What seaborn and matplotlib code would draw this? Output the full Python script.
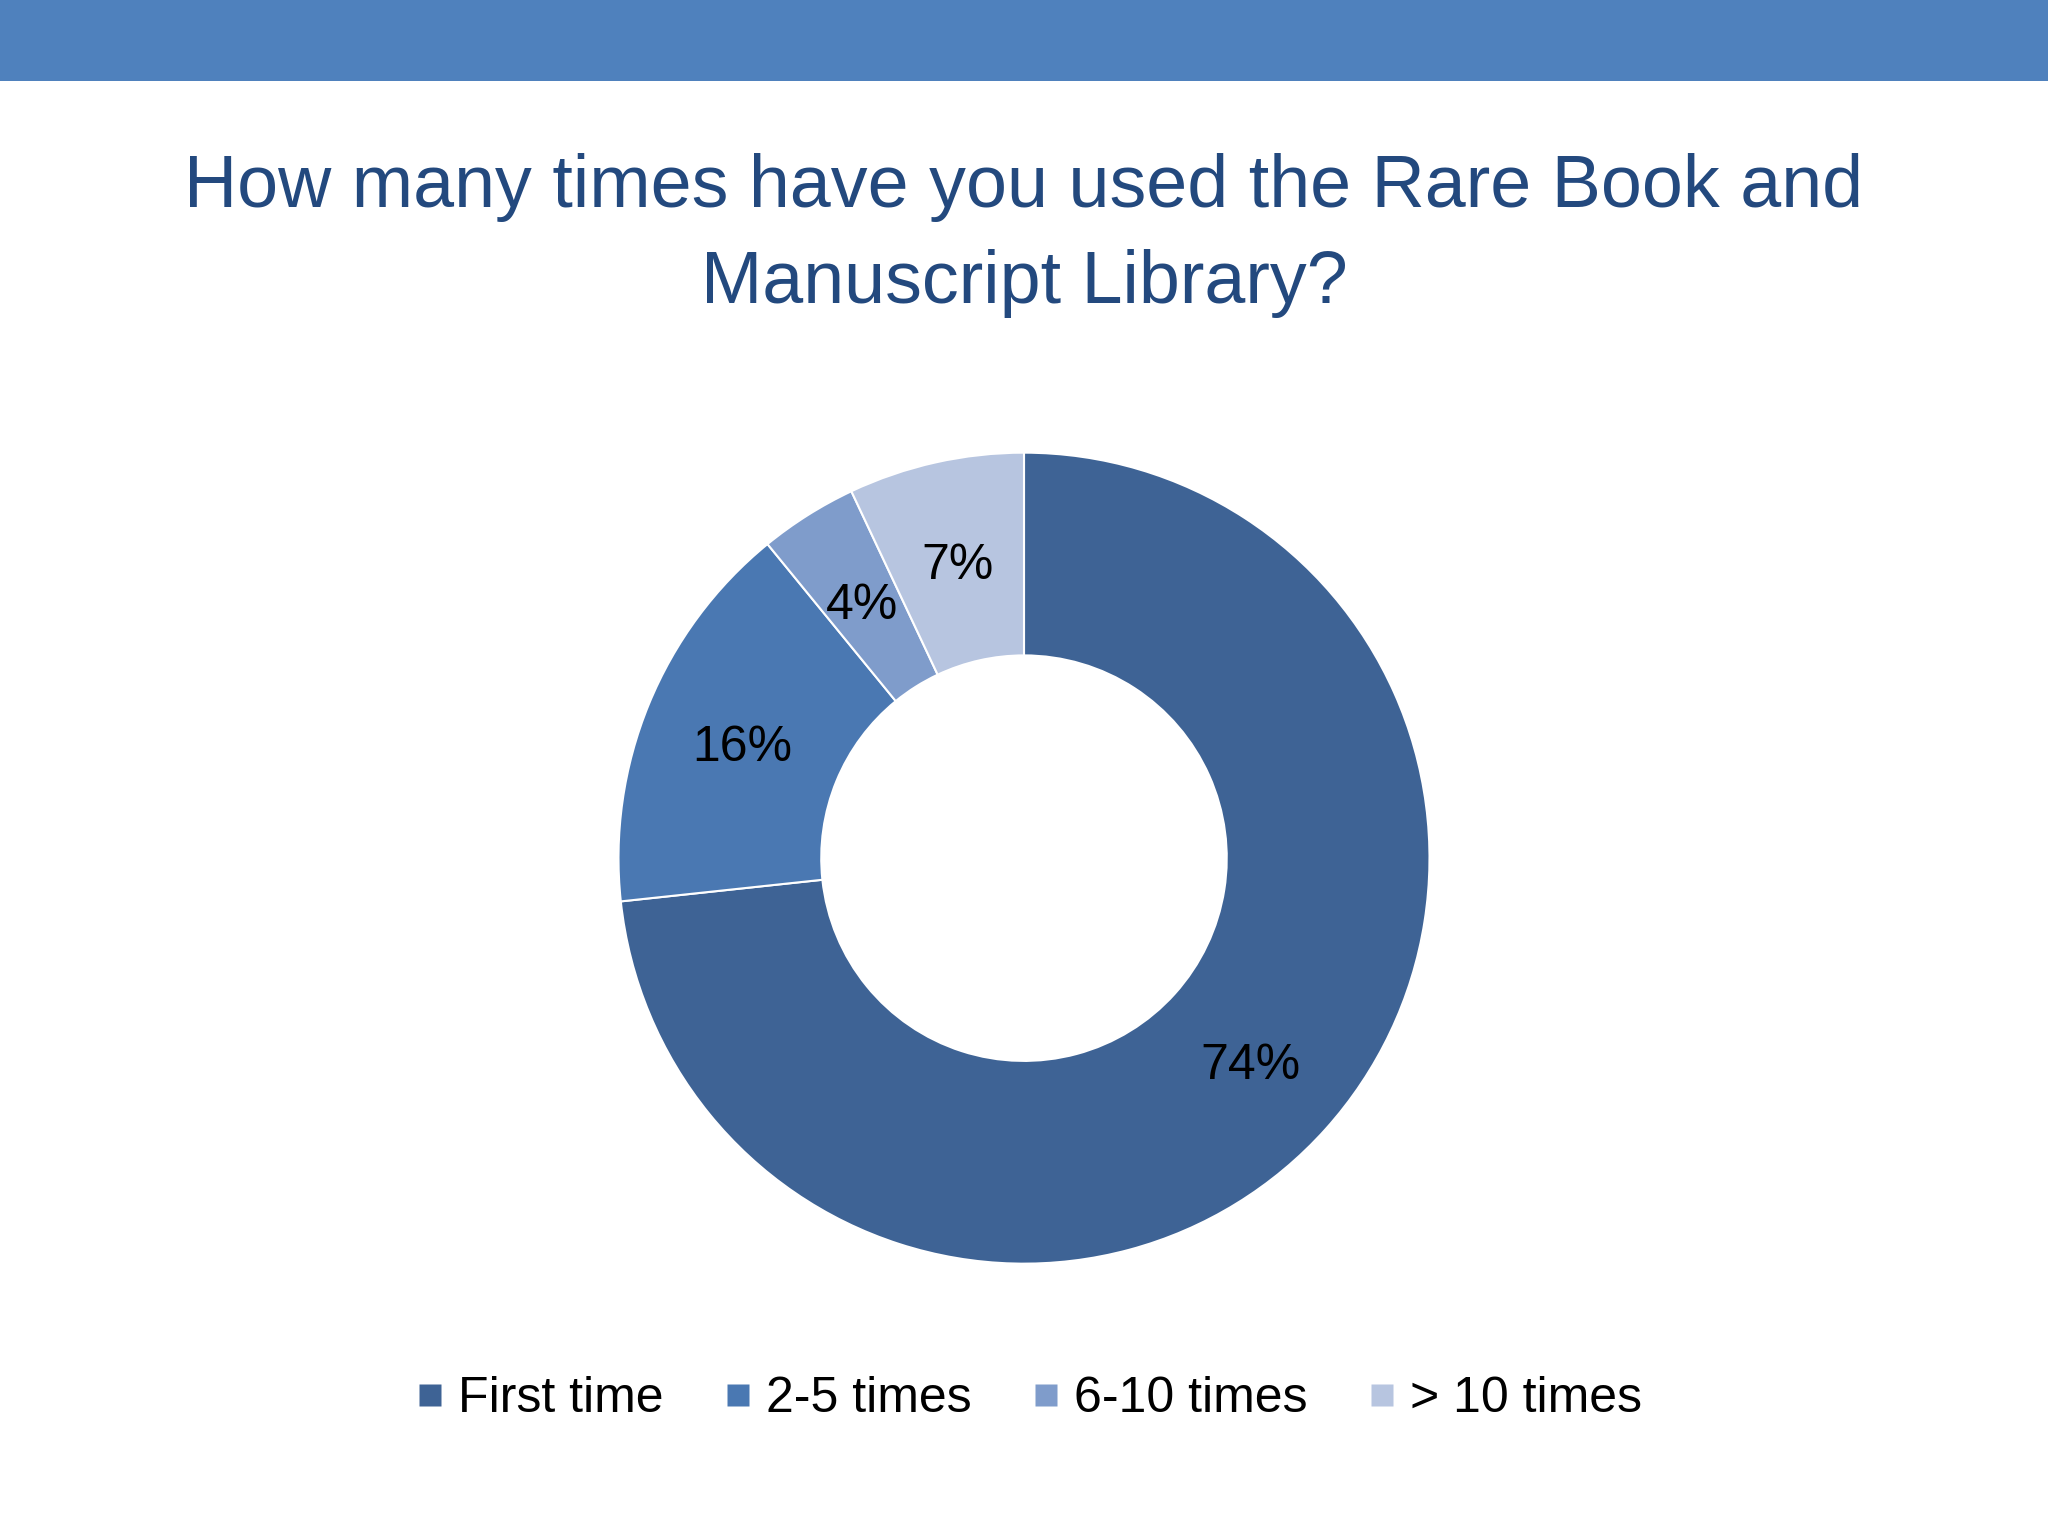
import matplotlib
matplotlib.use("Agg")
import matplotlib.pyplot as plt
from matplotlib.lines import Line2D
from matplotlib.patches import Rectangle
import seaborn as sns

# survey answers, share of respondents
categories = ["First time", "2-5 times", "6-10 times", "> 10 times"]
shares = [73.3, 15.8, 3.9, 7.0]
pct_labels = ["74%", "16%", "4%", "7%"]
colors = ["#3E6395", "#4A78B2", "#7F9CCB", "#B7C5E0"]

title = "How many times have you used the Rare Book and\nManuscript Library?"

sns.set_theme(style="white")
plt.rcParams["font.family"] = ["Liberation Sans", "DejaVu Sans"]

fig = plt.figure(figsize=(20.48, 15.36), dpi=100)
fig.patch.set_facecolor("white")

# blue band along the top
fig.patches.append(Rectangle((0, 0.947), 1, 0.053, transform=fig.transFigure,
                             facecolor="#4F81BD", edgecolor="none"))

fig.text(0.5, 0.847, title, ha="center", va="center", fontsize=53,
         color="#23497E", linespacing=1.5)

ax = fig.add_axes([0.302, 0.1768, 0.396, 0.529])
wedges, texts = ax.pie(shares, labels=pct_labels, colors=colors, startangle=90,
                       counterclock=False, labeldistance=0.75, radius=1,
                       wedgeprops=dict(width=0.5, edgecolor="white", linewidth=1.5),
                       textprops=dict(fontsize=36, color="black"))
for t in texts:
    t.set_ha("center")
    t.set_va("center_baseline")
ax.set_xlim(-1, 1)
ax.set_ylim(-1, 1)
ax.set_aspect("equal")
ax.axis("off")

handles = [Line2D([], [], marker="s", linestyle="none", markersize=16,
                  markerfacecolor=c, markeredgecolor="none") for c in colors]
fig.legend(handles, categories, loc="center", bbox_to_anchor=(0.501, 0.089),
           ncol=4, frameon=False, fontsize=36, handletextpad=0.15,
           columnspacing=1.1, handlelength=0.8, labelcolor="black")

fig.savefig("out.png", dpi=100, facecolor="white")
